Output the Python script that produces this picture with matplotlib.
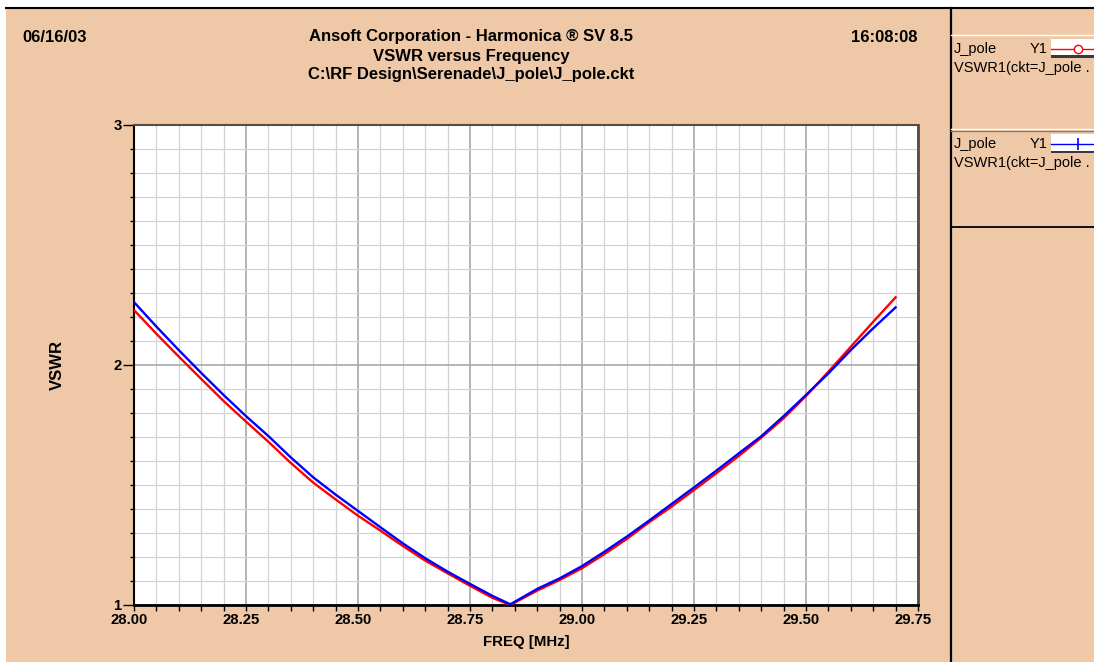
import matplotlib
matplotlib.use("Agg")
import matplotlib.pyplot as plt
import matplotlib.transforms as mtransforms
from matplotlib.patches import Rectangle
from matplotlib.lines import Line2D
from matplotlib.ticker import MultipleLocator, FormatStrFormatter

# ---- data ----
freq_blue = [28.00, 28.05, 28.10, 28.15, 28.20, 28.25, 28.30, 28.35, 28.40, 28.45,
             28.50, 28.55, 28.60, 28.65, 28.70, 28.75, 28.80, 28.84, 28.90, 28.95,
             29.00, 29.05, 29.10, 29.15, 29.20, 29.25, 29.30, 29.35, 29.40, 29.45,
             29.50, 29.55, 29.60, 29.65, 29.70]
vswr_blue = [2.262, 2.160, 2.062, 1.967, 1.875, 1.787, 1.704, 1.615, 1.532, 1.460,
             1.392, 1.324, 1.257, 1.195, 1.139, 1.088, 1.038, 1.003, 1.067, 1.111,
             1.162, 1.222, 1.285, 1.352, 1.421, 1.490, 1.560, 1.632, 1.703, 1.787,
             1.875, 1.965, 2.062, 2.153, 2.240]
freq_red = freq_blue
vswr_red = [2.229, 2.130, 2.035, 1.942, 1.850, 1.764, 1.680, 1.592, 1.510, 1.440,
            1.372, 1.310, 1.246, 1.185, 1.132, 1.080, 1.030, 1.000, 1.060, 1.104,
            1.153, 1.212, 1.275, 1.345, 1.410, 1.479, 1.549, 1.621, 1.697, 1.778,
            1.871, 1.972, 2.076, 2.180, 2.282]

x_ticks = [28.00, 28.25, 28.50, 28.75, 29.00, 29.25, 29.50, 29.75]
y_ticks = [1, 2, 3]

title_lines = ["Ansoft Corporation - Harmonica \u00ae SV 8.5",
               "VSWR versus Frequency",
               "C:\\RF Design\\Serenade\\J_pole\\J_pole.ckt"]
date_text = "06/16/03"
time_text = "16:08:08"
legend_name = "J_pole"
legend_axis = "Y1"
legend_expr = "VSWR1(ckt=J_pole ."

# ---- style ----
W, H = 1094, 662
TAN = "#EFC9A7"
FONT = "Liberation Sans"
plt.rcParams['font.family'] = [FONT, 'DejaVu Sans']

fig = plt.figure(figsize=(W / 100, H / 100), dpi=100)
fig.patch.set_facecolor("white")


def fx(px):
    return px / W


def fy(py):
    return 1 - py / H


def frect(x0, y0, x1, y1, **kw):
    fig.add_artist(Rectangle((fx(x0), fy(y1)), fx(x1) - fx(x0), fy(y0) - fy(y1),
                             transform=fig.transFigure, **kw))


def fline(x0, y0, x1, y1, **kw):
    fig.add_artist(Line2D([fx(x0), fx(x1)], [fy(y0), fy(y1)],
                          transform=fig.transFigure, **kw))


# background
frect(6, 8, W, H, facecolor=TAN, edgecolor="none", zorder=0)
fline(6, 8, W, 8, color="black", lw=1.5, zorder=1)
fline(951, 8, 951, H, color="black", lw=1.6, zorder=1)
fline(951, 35, W, 35, color="white", lw=1.0, zorder=1)
fline(951, 129, W, 129, color="white", lw=1.0, zorder=1)
fline(951, 130.5, W, 130.5, color="#8a7a70", lw=1.0, zorder=1)
fline(951, 227, W, 227, color="black", lw=1.3, zorder=1)

# axes
ax = fig.add_axes([fx(134), fy(605), fx(918) - fx(134), fy(125) - fy(605)])
ax.set_facecolor("white")
ax.plot(freq_red, vswr_red, color="#ff0000", lw=1.7, zorder=3)
ax.plot(freq_blue, vswr_blue, color="#0000ff", lw=1.7, zorder=4)

ax.set_xlim(28.0, 29.75)
ax.set_ylim(1, 3)
ax.set_xticks(x_ticks)
ax.xaxis.set_major_formatter(FormatStrFormatter("%.2f"))
ax.xaxis.set_minor_locator(MultipleLocator(0.05))
ax.set_yticks(y_ticks)
ax.set_yticklabels([str(v) for v in y_ticks])
ax.yaxis.set_minor_locator(MultipleLocator(0.1))

ax.grid(which="minor", color="#d4d4d4", lw=0.9, zorder=1)
ax.grid(which="major", color="#a8a8a8", lw=1.2, zorder=2)
ax.set_axisbelow(True)

ax.tick_params(axis="x", which="both", direction="out", length=4, width=1,
               color="black", pad=1.5)
ax.tick_params(axis="y", which="major", direction="out", length=8, width=1,
               color="black", pad=1)
ax.tick_params(axis="y", which="minor", direction="out", length=3, width=1,
               color="black")
for lab in ax.get_xticklabels() + ax.get_yticklabels():
    lab.set_fontweight("bold")
    lab.set_fontsize(10.7)
    lab.set_family(FONT)

# x tick labels sit a few pixels left of their ticks in the reference
shift = mtransforms.ScaledTranslation(-5 / 100, 0, fig.dpi_scale_trans)
for tick in ax.xaxis.get_major_ticks():
    tick.label1.set_transform(tick.label1.get_transform() + shift)

ax.spines["left"].set_color("black")
ax.spines["left"].set_linewidth(1.5)
ax.spines["bottom"].set_color("black")
ax.spines["bottom"].set_linewidth(2.0)
ax.spines["top"].set_color("#5a4a42")
ax.spines["top"].set_linewidth(1.5)
ax.spines["right"].set_color("#5a4a42")
ax.spines["right"].set_linewidth(2.0)

ax.set_xlabel("FREQ [MHz]", fontsize=10.8, fontweight="bold", labelpad=6)
fig.text(fx(57), fy(365), "VSWR", rotation=90, ha="center", va="center",
         fontsize=12, fontweight="bold")

# header texts
for i, t in enumerate(title_lines):
    fig.text(fx(471), fy(37 + 19 * i), t, ha="center", va="center",
             fontsize=12, fontweight="bold")
fig.text(fx(22), fy(37), date_text, ha="left", va="center",
         fontsize=12, fontweight="bold")
fig.text(fx(918), fy(37), time_text, ha="right", va="center",
         fontsize=12, fontweight="bold")

# legend panel entries
entries = [("#ff0000", "o", 49, 39, 55.5), ("#0000ff", "|", 144, 134, 150.5)]
for color, marker, yc, ytop, ybot in entries:
    fig.text(fx(954), fy(yc), legend_name, ha="left", va="center", fontsize=10.5)
    fig.text(fx(1030), fy(yc), legend_axis, ha="left", va="center", fontsize=10.5)
    frect(1051, ytop, W, ybot, facecolor="white", edgecolor="none", zorder=2)
    frect(1051, ybot, W, ybot + 2.5, facecolor="#3a3a3a", edgecolor="none", zorder=2)
    fig.add_artist(Line2D([fx(1051), fx(W)], [fy(yc), fy(yc)], color=color, lw=1.0,
                          transform=fig.transFigure, zorder=3))
    if marker == "o":
        fig.add_artist(Line2D([fx(1078)], [fy(yc)], marker="o", markersize=6,
                              markerfacecolor="white", markeredgecolor=color,
                              markeredgewidth=1.0, transform=fig.transFigure, zorder=4))
    else:
        fig.add_artist(Line2D([fx(1078)], [fy(yc)], marker="|", markersize=9,
                              markeredgecolor=color, markeredgewidth=1.2,
                              transform=fig.transFigure, zorder=4))
    fig.text(fx(954), fy(yc + 19), legend_expr, ha="left", va="center", fontsize=10.5)

fig.savefig("out.png", dpi=100, facecolor=fig.get_facecolor())
